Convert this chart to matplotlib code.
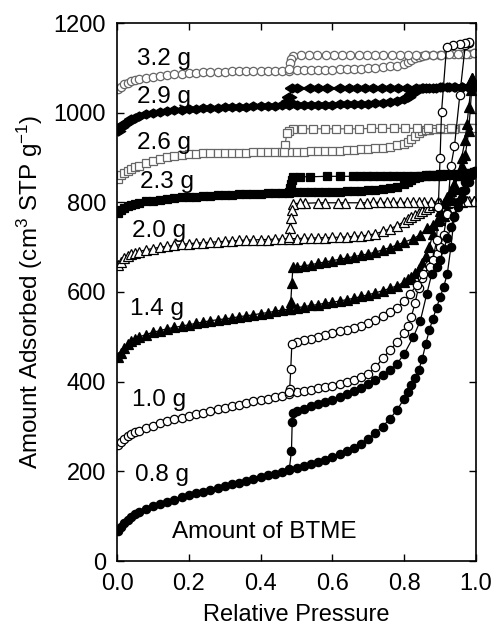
import matplotlib
matplotlib.use('Agg')
import matplotlib.pyplot as plt

plt.rcParams['font.family'] = ['Liberation Sans', 'DejaVu Sans']
plt.rcParams['mathtext.fontset'] = 'custom'
plt.rcParams['mathtext.rm'] = 'Liberation Sans'
plt.rcParams['mathtext.it'] = 'Liberation Sans'

# ---------------- data ----------------
ads_p = [0.003, 0.01, 0.02, 0.03, 0.04, 0.05, 0.06, 0.08, 0.10, 0.12, 0.14, 0.16, 0.18, 0.20,
         0.22, 0.24, 0.26, 0.28, 0.30, 0.32, 0.34, 0.36, 0.38, 0.40, 0.42, 0.44, 0.46, 0.48,
         0.50, 0.52, 0.54, 0.56, 0.58, 0.60, 0.62, 0.64, 0.66, 0.68, 0.70, 0.72, 0.74, 0.76,
         0.78, 0.80]

# 0.8 g
ads_08 = [68, 75, 84, 92, 99, 105, 110, 117, 122, 127, 132, 137, 142, 147, 151, 155, 159, 163,
          167, 171, 175, 179, 183, 187, 191, 195, 199, 203, 207, 211, 216, 221, 226, 231, 238,
          245, 253, 262, 273, 286, 300, 317, 337, 362]
tail_08_p = [0.81, 0.82, 0.83, 0.84, 0.85, 0.86, 0.87, 0.88, 0.89, 0.90, 0.91, 0.92, 0.93, 0.94,
             0.95, 0.96, 0.97, 0.98, 0.99, 0.997]
tail_08_v = [378, 393, 408, 425, 450, 484, 515, 540, 565, 588, 612, 640, 700, 770, 800, 825,
             845, 858, 866, 871]
des_08_p = [0.997, 0.99, 0.98, 0.97, 0.96, 0.95, 0.94, 0.93, 0.92, 0.91, 0.90, 0.89, 0.877,
            0.863, 0.845, 0.825, 0.80, 0.78, 0.76, 0.74, 0.72, 0.70, 0.68, 0.66, 0.64, 0.62,
            0.60, 0.58, 0.56, 0.54, 0.52, 0.50, 0.49, 0.488, 0.486, 0.48]
des_08_v = [871, 860, 845, 828, 810, 790, 768, 745, 720, 695, 672, 655, 641, 596, 536, 499, 462,
            440, 426, 414, 403, 394, 386, 379, 372, 366, 360, 355, 350, 345, 340, 335, 330, 310,
            246, 205]

# 1.0 g
ads_10 = [258, 265, 272, 278, 283, 287, 291, 297, 302, 307, 312, 316, 320, 324, 328, 331, 335,
          338, 342, 345, 349, 352, 356, 359, 362, 366, 369, 373, 376, 379, 382, 385, 388, 391,
          395, 399, 404, 410, 418, 432, 452, 470, 488, 508]
tail_10_p = [0.81, 0.82, 0.83, 0.84, 0.85, 0.86, 0.87, 0.88, 0.89, 0.90, 0.91, 0.92, 0.93, 0.94,
             0.955, 0.97, 0.98]
tail_10_v = [525, 545, 575, 610, 632, 648, 660, 672, 685, 700, 728, 775, 880, 925, 1040, 1150,
             1155]
des_10_p = [0.98, 0.97, 0.955, 0.937, 0.918, 0.904, 0.90, 0.895, 0.89, 0.88, 0.872, 0.853, 0.835,
            0.816, 0.80, 0.78, 0.76, 0.74, 0.72, 0.70, 0.68, 0.66, 0.64, 0.62, 0.60, 0.58, 0.56,
            0.54, 0.52, 0.50, 0.487, 0.484, 0.481, 0.478]
des_10_v = [1157, 1155, 1153, 1151, 1147, 1002, 900, 790, 715, 672, 655, 641, 615, 596, 580, 565,
            556, 547, 538, 530, 525, 520, 516, 512, 508, 504, 500, 496, 492, 488, 484, 428, 384,
            376]

# 1.4 g
ads_14 = [455, 465, 476, 484, 490, 495, 499, 505, 510, 514, 518, 521, 524, 527, 530, 533, 536,
          538, 540, 542, 545, 547, 549, 552, 554, 557, 560, 562, 565, 567, 570, 572, 575, 577,
          580, 583, 586, 590, 594, 598, 603, 608, 614, 622]
tail_14_p = [0.81, 0.82, 0.83, 0.84, 0.85, 0.86, 0.87, 0.88, 0.89, 0.90, 0.91, 0.92, 0.93, 0.94,
             0.95, 0.96, 0.97, 0.98, 0.99]
tail_14_v = [628, 634, 642, 652, 665, 680, 700, 730, 758, 780, 798, 812, 826, 842, 860, 880, 905,
             960, 1077]
des_14_p = [0.99, 0.985, 0.98, 0.975, 0.97, 0.96, 0.95, 0.94, 0.93, 0.92, 0.91, 0.90, 0.88, 0.863,
            0.845, 0.825, 0.80, 0.78, 0.76, 0.74, 0.72, 0.70, 0.68, 0.66, 0.64, 0.62, 0.60, 0.58,
            0.56, 0.54, 0.52, 0.50, 0.49, 0.487, 0.484, 0.481]
des_14_v = [1077, 1050, 1013, 975, 940, 900, 862, 830, 805, 785, 770, 760, 750, 742, 728, 719,
            711, 705, 699, 694, 689, 685, 682, 679, 676, 673, 670, 667, 664, 661, 658, 656, 655,
            619, 577, 563]

# 2.0 g
ads_20 = [660, 668, 676, 681, 685, 688, 690, 694, 697, 700, 702, 704, 706, 708, 709, 710, 711,
          712, 713, 714, 715, 716, 716, 717, 717, 718, 718, 719, 719, 720, 720, 721, 721, 722,
          722, 723, 724, 725, 727, 730, 735, 741, 748, 757]
tail_20_p = [0.81, 0.82, 0.83, 0.84, 0.85, 0.86, 0.87, 0.88, 0.89, 0.90, 0.92, 0.94, 0.96, 0.98,
             0.995]
tail_20_v = [762, 767, 772, 777, 781, 785, 789, 793, 796, 798, 799, 800, 801, 802, 803]
des_20_p = [0.995, 0.975, 0.955, 0.935, 0.915, 0.895, 0.875, 0.855, 0.84, 0.825, 0.808, 0.788,
            0.77, 0.752, 0.733, 0.714, 0.696, 0.677, 0.635, 0.616, 0.58, 0.56, 0.524, 0.51, 0.49,
            0.487, 0.484, 0.481, 0.478]
des_20_v = [803, 802, 802, 801, 801, 801, 800, 800, 800, 800, 800, 800, 800, 800, 800, 800, 799,
            799, 799, 799, 799, 799, 798, 798, 797, 782, 764, 742, 722]

# 2.3 g
ads_23 = [776, 782, 788, 792, 795, 797, 799, 802, 804, 806, 808, 809, 811, 812, 813, 814, 815,
          816, 817, 817, 818, 818, 819, 819, 820, 820, 821, 821, 822, 822, 822, 823, 823, 824,
          824, 825, 825, 826, 827, 828, 829, 831, 835, 841]
tail_23_p = [0.81, 0.82, 0.83, 0.84, 0.85, 0.86, 0.87, 0.88, 0.89, 0.90, 0.92, 0.94, 0.96, 0.98,
             0.995]
tail_23_v = [845, 850, 854, 857, 859, 860, 861, 862, 862, 863, 864, 864, 865, 866, 868]
des_23_p = [0.995, 0.98, 0.965, 0.95, 0.935, 0.92, 0.905, 0.89, 0.875, 0.86, 0.845, 0.826, 0.808,
            0.789, 0.77, 0.752, 0.733, 0.714, 0.696, 0.677, 0.658, 0.621, 0.584, 0.538, 0.51,
            0.49, 0.487, 0.485, 0.482, 0.479]
des_23_v = [868, 866, 864, 862, 861, 860, 859, 859, 858, 858, 858, 858, 858, 858, 858, 858, 858,
            858, 858, 858, 858, 858, 858, 857, 857, 856, 850, 842, 832, 823]

# 2.6 g
ads_26 = [853, 860, 866, 870, 874, 878, 881, 888, 893, 897, 901, 904, 906, 907, 908, 909, 909,
          910, 910, 911, 911, 911, 912, 912, 912, 912, 913, 913, 913, 913, 914, 914, 914, 915,
          915, 916, 917, 918, 919, 921, 922, 924, 927, 931]
tail_26_p = [0.81, 0.82, 0.83, 0.84, 0.85, 0.86, 0.87, 0.88, 0.90, 0.92, 0.94, 0.96, 0.98, 0.995]
tail_26_v = [935, 941, 948, 955, 959, 961, 962, 963, 963, 964, 964, 965, 965, 966]
des_26_p = [0.995, 0.963, 0.931, 0.899, 0.867, 0.835, 0.803, 0.771, 0.739, 0.707, 0.675, 0.643,
            0.611, 0.579, 0.547, 0.515, 0.49, 0.478, 0.473, 0.468, 0.465]
des_26_v = [966, 966, 965, 965, 965, 965, 965, 965, 965, 965, 964, 964, 964, 964, 964, 964, 963,
            960, 954, 927, 913]

# 2.9 g
ads_29 = [960, 967, 974, 980, 985, 989, 992, 996, 999, 1002, 1004, 1006, 1007, 1008, 1009, 1010,
          1011, 1011, 1012, 1012, 1013, 1013, 1014, 1014, 1015, 1015, 1016, 1016, 1017, 1017,
          1017, 1018, 1018, 1018, 1019, 1019, 1019, 1020, 1020, 1021, 1021, 1023, 1026, 1030]
tail_29_p = [0.81, 0.82, 0.83, 0.84, 0.85, 0.86, 0.88, 0.90, 0.92, 0.94, 0.96, 0.98, 0.995]
tail_29_v = [1035, 1042, 1049, 1053, 1055, 1056, 1056, 1057, 1057, 1057, 1058, 1058, 1058]
des_29_p = [0.995, 0.978, 0.96, 0.942, 0.924, 0.906, 0.888, 0.87, 0.852, 0.834, 0.807, 0.784,
            0.76, 0.737, 0.714, 0.691, 0.668, 0.645, 0.621, 0.584, 0.561, 0.538, 0.50, 0.487,
            0.48, 0.477]
des_29_v = [1058, 1058, 1057, 1057, 1057, 1057, 1056, 1056, 1056, 1056, 1056, 1056, 1056, 1056,
            1056, 1056, 1056, 1056, 1056, 1056, 1056, 1056, 1056, 1055, 1036, 1025]

# 3.2 g
ads_32 = [1052, 1058, 1063, 1067, 1070, 1073, 1075, 1078, 1080, 1082, 1084, 1086, 1087, 1088,
          1089, 1090, 1090, 1091, 1091, 1092, 1092, 1092, 1093, 1093, 1093, 1094, 1094, 1094,
          1095, 1095, 1095, 1096, 1096, 1096, 1097, 1097, 1098, 1098, 1099, 1100, 1101, 1103,
          1105, 1109]
tail_32_p = [0.81, 0.82, 0.83, 0.84, 0.85, 0.86, 0.88, 0.90, 0.92, 0.94, 0.96, 0.98, 0.995]
tail_32_v = [1113, 1118, 1122, 1125, 1127, 1128, 1129, 1129, 1130, 1130, 1131, 1131, 1132]
des_32_p = [0.995, 0.972, 0.949, 0.926, 0.903, 0.88, 0.857, 0.834, 0.811, 0.788, 0.765, 0.742,
            0.719, 0.696, 0.673, 0.65, 0.627, 0.604, 0.581, 0.558, 0.535, 0.512, 0.49, 0.484,
            0.481, 0.478]
des_32_v = [1132, 1131, 1130, 1130, 1129, 1129, 1129, 1129, 1128, 1128, 1128, 1128, 1128, 1128,
            1128, 1128, 1128, 1128, 1128, 1128, 1128, 1128, 1127, 1120, 1110, 1097]

labels = ['3.2 g', '2.9 g', '2.6 g', '2.3 g', '2.0 g', '1.4 g', '1.0 g', '0.8 g']
label_x = [0.056, 0.056, 0.056, 0.064, 0.041, 0.036, 0.041, 0.050]
label_y = [1106, 1021, 920, 831, 723, 548, 346, 179]

y_ticks = [0, 200, 400, 600, 800, 1000, 1200]
x_ticks = [0.0, 0.2, 0.4, 0.6, 0.8, 1.0]

# ---------------- figure ----------------
fig = plt.figure(figsize=(4.96, 6.32), dpi=100)
ax = fig.add_axes([117 / 496, 1 - 561 / 632, (476 - 117) / 496, (561 - 23) / 632])

wide_diamond = [(-1, 0), (0, 0.62), (1, 0), (0, -0.62), (-1, 0)]

series = [
    (ads_32, tail_32_p, tail_32_v, des_32_p, des_32_v, dict(marker='o', ms=6.0, mfc='white', mec='0.4', color='0.4')),
    (ads_29, tail_29_p, tail_29_v, des_29_p, des_29_v, dict(marker=wide_diamond, ms=10.5, mfc='black', mec='black', color='black')),
    (ads_26, tail_26_p, tail_26_v, des_26_p, des_26_v, dict(marker='s', ms=5.6, mfc='white', mec='0.4', color='0.4')),
    (ads_23, tail_23_p, tail_23_v, des_23_p, des_23_v, dict(marker='s', ms=5.6, mfc='black', mec='black', color='black')),
    (ads_20, tail_20_p, tail_20_v, des_20_p, des_20_v, dict(marker='^', ms=6.8, mfc='white', mec='black', color='black')),
    (ads_14, tail_14_p, tail_14_v, des_14_p, des_14_v, dict(marker='^', ms=6.8, mfc='black', mec='black', color='black')),
    (ads_10, tail_10_p, tail_10_v, des_10_p, des_10_v, dict(marker='o', ms=6.0, mfc='white', mec='black', color='black')),
    (ads_08, tail_08_p, tail_08_v, des_08_p, des_08_v, dict(marker='o', ms=6.0, mfc='black', mec='black', color='black')),
]

for ads_v, tp, tv, dp, dv, st in series:
    ax.plot(ads_p + tp, ads_v + tv, lw=0.9, mew=0.9, **st)
    ax.plot(dp, dv, lw=0.9, mew=0.9, **st)

fs = 17.5
for lab, lx, ly in zip(labels, label_x, label_y):
    ax.text(lx, ly, lab, fontsize=fs, ha='left', va='baseline')
ax.text(0.152, 52, 'Amount of BTME', fontsize=fs, ha='left', va='baseline')

ax.set_xlim(0, 1.0)
ax.set_ylim(0, 1200)
ax.set_xticks(x_ticks)
ax.set_xticklabels([f'{t:.1f}' for t in x_ticks])
ax.set_yticks(y_ticks)
ax.tick_params(direction='in', top=True, right=True, length=5, width=1.0, labelsize=17)
ax.tick_params(axis='x', pad=9)
ax.tick_params(axis='y', pad=8)
for s in ax.spines.values():
    s.set_linewidth(1.2)

ax.set_xlabel('Relative Pressure', fontsize=17, labelpad=6)
ax.set_ylabel(r'Amount Adsorbed (cm$^{3}$ STP g$^{-1}$)', fontsize=17.5, labelpad=6)

fig.savefig('out.png', dpi=100)
